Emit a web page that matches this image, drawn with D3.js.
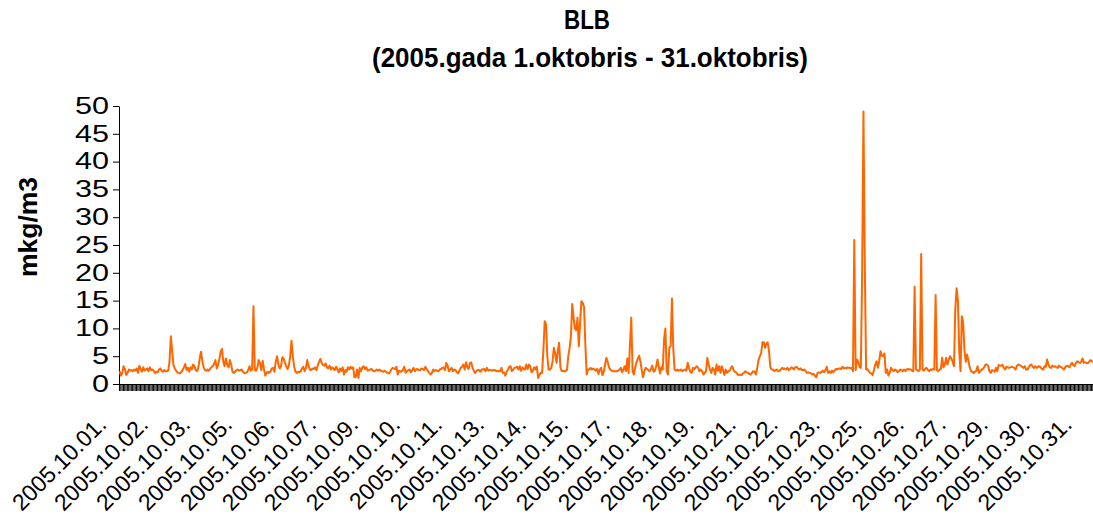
<!DOCTYPE html>
<html><head><meta charset="utf-8">
<script src="https://cdn.jsdelivr.net/npm/d3@7"></script>
<style>body{margin:0;background:#fff} svg{display:block;font-family:Arial,"Liberation Sans",sans-serif}</style>
</head><body><svg id="chart" width="1093" height="515"></svg>
<script>
const titleText = "BLB";
const subtitleText = "(2005.gada 1.oktobris - 31.oktobris)";
const yLabelText = "mkg/m3";
const yTicks = [0, 5, 10, 15, 20, 25, 30, 35, 40, 45, 50];
const tickLabels = ["2005.10.01.","2005.10.02.","2005.10.03.","2005.10.05.","2005.10.06.","2005.10.07.",
  "2005.10.09.","2005.10.10.","2005.10.11.","2005.10.13.","2005.10.14.","2005.10.15.",
  "2005.10.17.","2005.10.18.","2005.10.19.","2005.10.21.","2005.10.22.","2005.10.23.",
  "2005.10.25.","2005.10.26.","2005.10.27.","2005.10.29.","2005.10.30.","2005.10.31."];
const labelEvery = 32;
// hourly values, one line per day (1..31 October 2005)
const values = [
2.3,1.5,2.0,3.2,2.7,1.6,2.0,2.6,2.4,2.5,2.3,2.6,2.4,2.8,2.0,3.3,2.7,2.2,3.0,2.4,2.6,2.8,2.3,3.0,
2.5,2.6,2.4,2.0,2.2,2.1,2.6,2.8,2.4,2.2,2.5,2.3,2.3,2.4,4.0,8.6,6.0,3.4,2.8,2.4,2.1,2.0,1.9,2.2,
2.5,3.0,3.6,2.5,2.9,2.2,3.0,2.6,3.5,3.2,2.5,2.3,3.0,4.5,5.8,4.2,3.0,2.5,2.4,2.6,2.4,2.8,3.0,3.2,
3.6,4.3,2.8,3.4,4.5,5.8,6.3,4.0,3.2,4.6,3.4,3.0,4.3,3.5,2.2,2.0,2.2,2.5,2.6,2.4,2.5,2.6,2.2,2.0,
2.0,2.1,2.5,3.2,2.4,2.6,14.0,2.5,2.4,3.0,4.3,3.8,2.5,4.2,2.7,1.5,2.0,2.2,2.0,2.3,2.8,2.9,2.2,4.0,
5.0,3.5,2.8,3.2,4.8,4.6,3.8,3.2,2.7,3.3,5.0,7.8,5.0,3.2,2.2,2.0,2.2,2.1,2.3,2.8,3.1,2.3,2.9,4.3,
3.2,2.6,2.5,2.8,2.7,3.0,2.5,3.3,4.0,4.5,3.8,3.4,3.3,3.7,3.0,2.8,3.3,2.6,3.0,2.8,2.5,3.1,2.6,2.1,
2.8,2.4,3.0,1.7,2.5,2.2,3.0,2.6,3.1,2.8,3.0,1.2,1.3,2.6,1.1,2.9,2.3,3.0,3.2,2.7,3.0,2.4,2.5,2.6,
2.7,2.4,2.3,2.4,2.6,2.4,2.6,2.4,2.3,2.2,2.4,2.2,2.0,1.9,2.1,2.6,2.9,2.8,2.7,3.1,1.7,2.4,2.2,2.3,
2.6,3.1,2.0,2.3,2.5,2.6,2.1,2.5,2.9,2.3,2.6,2.7,2.5,2.5,2.8,2.7,2.5,3.1,2.7,2.3,2.0,1.7,2.0,2.6,
2.3,2.5,2.4,2.3,2.6,2.7,2.9,3.0,2.5,3.8,3.3,2.3,2.6,2.9,2.3,2.6,2.5,2.1,1.9,2.4,2.9,3.1,3.5,2.6,
3.9,3.0,2.7,3.8,3.9,2.9,2.4,2.0,2.4,2.5,2.5,2.2,2.6,2.6,2.7,2.3,2.9,2.4,2.5,2.5,2.4,2.5,2.5,2.3,
2.4,2.3,2.3,2.9,2.0,2.1,1.5,2.2,2.6,3.1,3.2,2.3,2.6,2.9,3.0,3.1,2.6,3.2,2.4,3.0,2.7,2.6,3.5,2.7,
3.5,3.2,2.1,2.4,3.0,2.6,3.1,1.1,1.6,2.0,2.0,6.0,11.3,10.8,5.0,2.6,2.6,2.9,4.0,6.5,5.5,3.8,5.9,7.4,
3.0,2.3,2.4,2.3,2.3,2.6,5.0,6.5,8.6,14.4,12.0,10.0,9.7,11.9,6.8,11.0,14.9,14.6,13.9,7.0,1.7,2.6,2.6,2.9,
2.6,2.8,2.6,2.4,2.7,1.8,2.6,2.9,1.6,2.2,3.5,4.7,4.0,3.0,2.6,2.4,2.3,2.3,2.3,2.3,2.4,2.6,2.9,2.1,
2.6,3.2,2.3,4.6,2.0,7.0,11.9,2.3,1.7,3.0,3.9,4.5,5.1,4.0,2.5,1.2,2.3,2.9,2.7,2.5,2.3,2.7,3.3,2.2,
2.4,3.2,4.4,3.0,1.9,3.1,2.6,8.0,10.0,2.3,1.7,6.5,6.8,15.4,6.5,2.6,2.4,2.6,2.4,2.5,2.6,2.3,2.5,2.6,
2.4,3.8,2.9,2.2,2.0,2.9,2.6,3.0,3.2,2.9,2.3,2.6,2.3,1.7,2.0,2.3,4.7,3.5,2.6,2.0,2.9,2.6,1.7,3.5,
2.4,3.2,2.0,3.2,2.5,1.6,2.6,2.0,2.3,2.4,2.9,3.2,2.5,2.2,2.1,1.7,1.6,1.7,1.6,1.9,2.0,2.3,2.1,2.0,
1.8,1.7,2.0,2.3,2.2,1.7,2.9,4.3,5.0,5.5,7.5,7.5,6.5,7.3,7.5,5.9,3.0,2.6,2.6,2.3,2.5,2.6,2.3,2.4,
2.6,2.9,2.7,2.8,2.6,2.9,2.5,2.7,3.0,2.9,2.6,3.0,3.1,2.8,2.6,2.8,2.5,2.5,2.6,2.3,2.0,2.1,2.0,1.9,
1.7,1.8,1.5,1.2,2.0,2.1,2.0,2.2,2.4,2.1,2.5,3.1,2.0,2.3,2.0,2.4,2.1,2.4,2.7,2.6,2.8,2.8,2.7,3.1,
2.8,2.9,2.8,3.0,2.9,2.9,2.9,2.3,25.9,2.5,4.4,4.0,3.1,2.9,20.0,49.0,22.0,2.6,2.7,2.3,2.0,1.9,1.6,2.5,
3.5,4.1,2.9,4.1,5.9,5.1,5.0,5.5,2.0,2.6,1.5,2.0,2.9,2.6,2.3,2.6,2.5,2.1,2.3,2.6,2.5,2.3,2.6,2.3,
2.6,2.7,2.6,2.6,2.4,2.3,17.5,2.6,2.5,2.3,2.6,23.4,2.6,2.4,2.7,2.9,2.6,2.3,2.6,2.5,2.7,2.6,16.0,2.5,
2.3,2.6,2.7,4.7,3.0,3.5,4.7,3.5,4.4,5.0,4.6,4.0,3.2,13.5,17.2,15.0,6.0,2.3,12.2,11.0,6.0,4.0,5.3,4.2,
3.0,2.3,2.2,2.0,2.2,2.4,3.2,2.0,2.3,2.6,2.7,3.0,3.5,3.5,3.3,2.3,2.0,2.5,2.4,2.2,2.9,2.3,3.4,3.3,
3.3,3.5,2.9,2.6,3.1,3.0,2.9,3.0,3.1,3.0,2.9,2.6,3.3,3.5,3.4,3.3,3.1,2.9,3.2,2.6,2.6,3.0,3.4,3.5,
3.1,2.9,3.2,2.9,3.1,3.2,3.0,2.7,2.6,3.2,3.1,4.4,3.5,3.0,2.9,3.3,3.1,3.2,3.0,2.9,3.3,3.1,3.0,2.8,
2.6,3.1,3.3,3.2,3.0,3.5,3.8,3.4,3.2,3.8,4.1,3.9,3.8,4.0,4.6,3.8,3.9,3.8,3.7,4.0,4.3,4.1,4.0,4.0
];
const categories = d3.range(values.length);

const svg = d3.select("#chart");
const plot = {left: 119, right: 1095, top: 106, bottom: 384};

const x = d3.scaleLinear().domain([0, categories.length]).range([plot.left, plot.right]);
const y = d3.scaleLinear().domain([0, 50]).range([plot.bottom, plot.top]);

// titles
svg.append("text").attr("x", 587).attr("y", 29).attr("text-anchor", "middle")
  .attr("font-weight", "bold").attr("font-size", 27)
  .attr("textLength", 46).attr("lengthAdjust", "spacingAndGlyphs").text(titleText);
svg.append("text").attr("x", 590).attr("y", 67).attr("text-anchor", "middle")
  .attr("font-weight", "bold").attr("font-size", 27)
  .attr("textLength", 436).attr("lengthAdjust", "spacingAndGlyphs").text(subtitleText);

// y label
svg.append("text").attr("transform", "translate(37,227) rotate(-90)")
  .attr("text-anchor", "middle").attr("font-weight", "bold").attr("font-size", 25)
  .attr("textLength", 100).attr("lengthAdjust", "spacingAndGlyphs").text(yLabelText);

// y axis
const yAxis = svg.append("g").attr("transform", `translate(${plot.left},0)`)
  .call(d3.axisLeft(y).tickValues(yTicks).tickSize(6).tickSizeOuter(0).tickPadding(4));
yAxis.selectAll("text").attr("font-size", 23).attr("fill", "#000")
  .attr("font-family", "Arial,'Liberation Sans',sans-serif")
  .attr("textLength", d => String(d).length * 17).attr("lengthAdjust", "spacingAndGlyphs");
yAxis.selectAll("line,path").attr("stroke", "#000");

// x axis with a tick between every category
const xAxis = svg.append("g").attr("transform", `translate(0,${plot.bottom})`)
  .call(d3.axisBottom(x).tickValues(d3.range(0, categories.length + 1)).tickSize(7).tickSizeOuter(0).tickFormat(""));
xAxis.selectAll("line,path").attr("stroke", "#000").attr("stroke-width", 1);

// category labels every 32 categories
const labelIdx = tickLabels.map((t, k) => k * labelEvery);
svg.append("g").selectAll("text").data(tickLabels).join("text")
  .attr("transform", (d, k) => `translate(${x(labelIdx[k] + 0.5) - 12},${plot.bottom + 42}) rotate(-45)`)
  .attr("text-anchor", "end").attr("font-size", 23).attr("fill", "#000").text(d => d);

// line
const line = d3.line().x((d, i) => x(i + 0.5)).y(d => y(d));
svg.append("path").datum(values).attr("d", line)
  .attr("fill", "none").attr("stroke", "#FF6600").attr("stroke-width", 2).attr("stroke-linejoin", "round");
</script></body></html>
